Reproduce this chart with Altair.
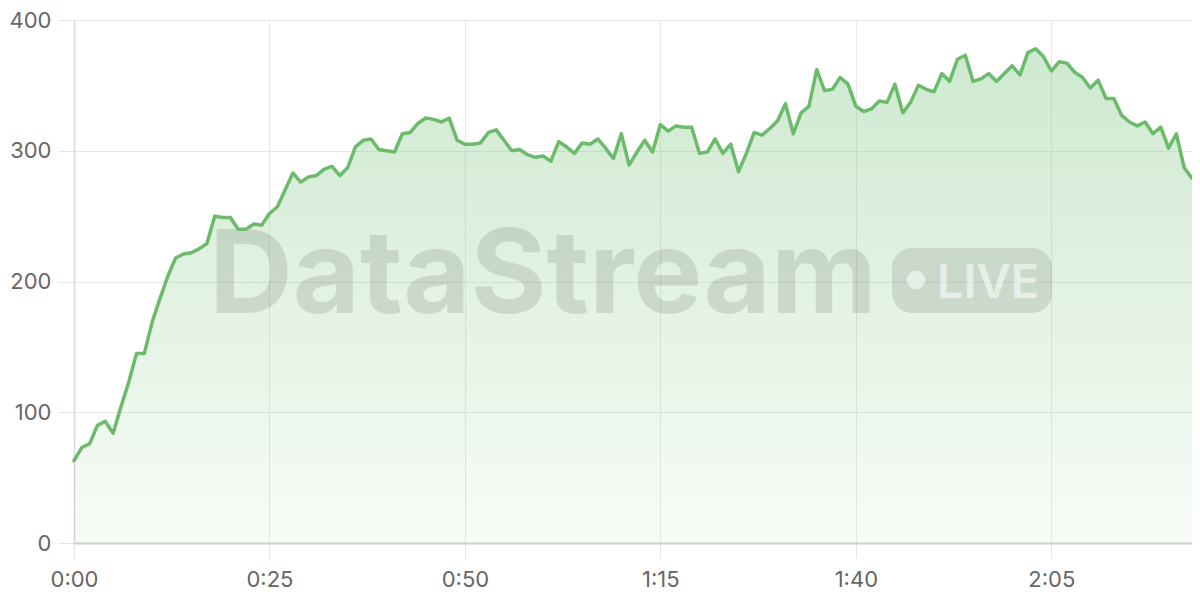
import altair as alt
import pandas as pd

# ---- data ----
seconds = list(range(144))
values = [
    63, 73, 76, 90, 93, 84, 104, 123, 145, 145,
    169, 187, 204, 218, 221, 222, 225, 229, 250, 249,
    249, 240, 240, 244, 243, 252, 257, 270, 283, 276,
    280, 281, 286, 288, 281, 287, 303, 308, 309, 301,
    300, 299, 313, 314, 321, 325, 324, 322, 325, 308,
    305, 305, 306, 314, 316, 308, 300, 301, 297, 295,
    296, 292, 307, 303, 298, 306, 305, 309, 302, 294,
    313, 289, 299, 308, 299, 320, 315, 319, 318, 318,
    298, 299, 309, 298, 305, 284, 298, 314, 312, 317,
    323, 336, 313, 329, 334, 362, 346, 347, 356, 351,
    334, 330, 332, 338, 337, 351, 329, 337, 350, 347,
    345, 359, 353, 370, 373, 353, 355, 359, 353, 359,
    365, 358, 375, 378, 372, 361, 368, 367, 360, 356,
    348, 354, 340, 340, 327, 322, 319, 322, 313, 318,
    302, 313, 287, 279,
]
x_ticks = [0, 25, 50, 75, 100, 125]
y_ticks = [0, 100, 200, 300, 400]
brand_text = ["DataStream"]
badge_text = ["LIVE"]

df = pd.DataFrame({"t": seconds, "v": values})
brand_df = pd.DataFrame({"label": brand_text})
badge_df = pd.DataFrame({"label": badge_text})

FONT = "Inter"
LINE_COLOR = "#6cbb6c"

x_enc = alt.X(
    "t:Q",
    scale=alt.Scale(domain=[0, 143], nice=False, zero=False),
    axis=alt.Axis(
        values=x_ticks,
        title=None,
        labelExpr="floor(datum.value/60) + ':' + (datum.value % 60 < 10 ? '0' : '') + (datum.value % 60)",
        labelFlush=False,
        domainColor="#cfcfcf",
        domainWidth=2,
        tickColor="#e4e4e4",
        tickSize=15,
        labelPadding=11,
        labelBaseline="top",
    ),
)
y_enc = alt.Y(
    "v:Q",
    scale=alt.Scale(domain=[0, 400], nice=False),
    axis=alt.Axis(
        values=y_ticks,
        title=None,
        domainColor="#d6d6d6",
        domainWidth=1.5,
        tickColor="#e4e4e4",
        tickSize=16,
        labelPadding=7,
    ),
)

gradient = alt.Gradient(
    gradient="linear",
    stops=[
        alt.GradientStop(color="rgba(102,187,106,0.32)", offset=0),
        alt.GradientStop(color="rgba(102,187,106,0.05)", offset=1),
    ],
    x1=0, x2=0, y1=0, y2=1,
)

area = alt.Chart(df).mark_area(color=gradient).encode(x=x_enc, y=y_enc)

brand = alt.Chart(brand_df).mark_text(
    font=FONT, fontSize=116, fontWeight="bold", color="black", opacity=0.1,
    align="left", baseline="alphabetic",
).encode(x=alt.value(135), y=alt.value(293), text="label:N")

badge = alt.Chart(badge_df).mark_rect(
    cornerRadius=20, color="black", opacity=0.1,
).encode(x=alt.value(818), x2=alt.value(978), y=alt.value(228), y2=alt.value(293))

dot = alt.Chart(badge_df).mark_circle(
    size=340, color="white", opacity=0.55,
).encode(x=alt.value(842), y=alt.value(260))

live = alt.Chart(badge_df).mark_text(
    font=FONT, fontSize=47, fontWeight=600, color="white", opacity=0.55,
    align="left", baseline="alphabetic",
).encode(x=alt.value(863), y=alt.value(278), text="label:N")

line = alt.Chart(df).mark_line(
    color=LINE_COLOR, strokeWidth=3.5, strokeJoin="round", strokeCap="round",
).encode(x="t:Q", y="v:Q")

chart = alt.layer(area, brand, badge, dot, live, line).properties(
    width=1118,
    height=523,
    autosize=alt.AutoSizeParams(type="none"),
    padding={"left": 66, "top": 12, "right": 0, "bottom": 50},
).configure_view(stroke=None).configure_axis(
    gridColor="#e8e8e8",
    gridWidth=1,
    labelFont=FONT,
    labelFontSize=22,
    labelColor="#666666",
)

chart.save("out.html", embed_options={"renderer": "svg", "actions": False})
